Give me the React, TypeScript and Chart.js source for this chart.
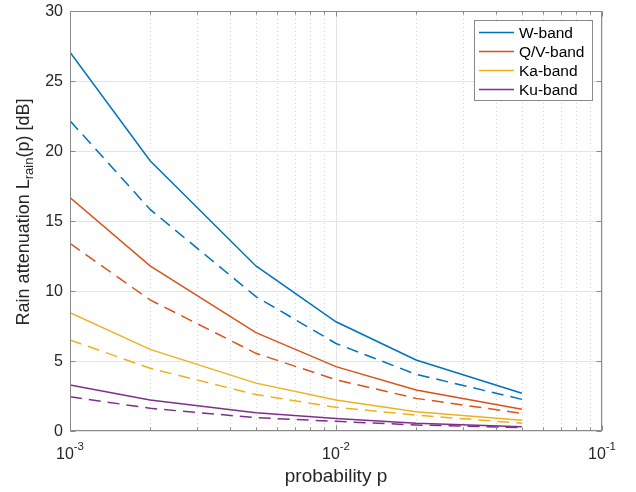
import React, { useEffect, useRef } from "react";
import { Chart, registerables } from "chart.js";

Chart.register(...registerables);

// ---- data ----
const probabilities = [0.001, 0.002, 0.005, 0.01, 0.02, 0.05];

const wBandSolid = [27.05, 19.3, 11.79, 7.8, 5.07, 2.69];
const wBandDashed = [22.16, 15.83, 9.6, 6.25, 4.05, 2.26];
const qvBandSolid = [16.67, 11.79, 7.03, 4.6, 2.93, 1.55];
const qvBandDashed = [13.4, 9.36, 5.55, 3.66, 2.33, 1.26];
const kaBandSolid = [8.45, 5.83, 3.42, 2.21, 1.38, 0.76];
const kaBandDashed = [6.5, 4.48, 2.6, 1.69, 1.14, 0.55];
const kuBandSolid = [3.29, 2.21, 1.31, 0.9, 0.55, 0.31];
const kuBandDashed = [2.45, 1.62, 0.95, 0.69, 0.43, 0.24];

const bandLabels = ["W-band", "Q/V-band", "Ka-band", "Ku-band"];
const bandColors = ["#0072BD", "#D95319", "#EDB120", "#7E2F8E"];
const solidSeries = [wBandSolid, qvBandSolid, kaBandSolid, kuBandSolid];
const dashedSeries = [wBandDashed, qvBandDashed, kaBandDashed, kuBandDashed];

const yTickValues = [0, 5, 10, 15, 20, 25, 30];
const xDecades = [0.001, 0.01, 0.1];
const xDecadeExponents = ["-3", "-2", "-1"];
const xTitle = "probability p";
const yTitleMain = "Rain attenuation L";
const yTitleSub = "rain";
const yTitleEnd = "(p) [dB]";

const FONT = '"Liberation Sans", Arial, Helvetica, sans-serif';
const TEXT = "#262626";

const matlabPlugin = {
  id: "matlabLook",
  beforeDatasetsDraw(chart: any) {
    const { ctx, chartArea: a, scales } = chart;
    const x = scales.x;
    const y = scales.y;
    ctx.save();
    ctx.lineWidth = 1;
    // minor x grid (dotted)
    ctx.strokeStyle = "rgba(0,0,0,0.16)";
    ctx.setLineDash([1, 3]);
    for (let d = 0; d < xDecades.length - 1; d++) {
      for (let k = 2; k <= 9; k++) {
        const px = Math.round(x.getPixelForValue(k * xDecades[d])) + 0.5;
        ctx.beginPath();
        ctx.moveTo(px, a.top);
        ctx.lineTo(px, a.bottom);
        ctx.stroke();
      }
    }
    ctx.setLineDash([]);
    ctx.strokeStyle = "#e4e4e4";
    for (const v of yTickValues) {
      const py = Math.round(y.getPixelForValue(v)) + 0.5;
      ctx.beginPath();
      ctx.moveTo(a.left, py);
      ctx.lineTo(a.right, py);
      ctx.stroke();
    }
    for (const v of xDecades) {
      const px = Math.round(x.getPixelForValue(v)) + 0.5;
      ctx.beginPath();
      ctx.moveTo(px, a.top);
      ctx.lineTo(px, a.bottom);
      ctx.stroke();
    }
    ctx.restore();
  },
  afterDatasetsDraw(chart: any) {
    const { ctx, chartArea: a, scales } = chart;
    const x = scales.x;
    const y = scales.y;
    ctx.save();
    ctx.lineWidth = 1;
    ctx.strokeStyle = "#8a8a8a";
    const L = Math.round(a.left) + 0.5;
    const R = Math.round(a.right) - 0.5;
    const T = Math.round(a.top) + 0.5;
    const B = Math.round(a.bottom) - 0.5;
    ctx.strokeRect(L, T, R - L, B - T);
    // y ticks
    ctx.beginPath();
    for (const v of yTickValues) {
      const py = Math.round(y.getPixelForValue(v)) + 0.5;
      ctx.moveTo(L, py);
      ctx.lineTo(L + 5, py);
      ctx.moveTo(R, py);
      ctx.lineTo(R - 5, py);
    }
    // x ticks
    for (let d = 0; d < xDecades.length; d++) {
      const px = Math.round(x.getPixelForValue(xDecades[d])) + 0.5;
      ctx.moveTo(px, B);
      ctx.lineTo(px, B - 5);
      ctx.moveTo(px, T);
      ctx.lineTo(px, T + 5);
      if (d < xDecades.length - 1) {
        for (let k = 2; k <= 9; k++) {
          const pm = Math.round(x.getPixelForValue(k * xDecades[d])) + 0.5;
          ctx.moveTo(pm, B);
          ctx.lineTo(pm, B - 3);
          ctx.moveTo(pm, T);
          ctx.lineTo(pm, T + 3);
        }
      }
    }
    ctx.stroke();

    // y tick labels
    ctx.fillStyle = TEXT;
    ctx.font = `16px ${FONT}`;
    ctx.textAlign = "right";
    ctx.textBaseline = "middle";
    for (const v of yTickValues) {
      ctx.fillText(String(v), a.left - 7, y.getPixelForValue(v) + 1);
    }
    // x tick labels with superscript
    ctx.textAlign = "left";
    ctx.textBaseline = "alphabetic";
    for (let d = 0; d < xDecades.length; d++) {
      const px = x.getPixelForValue(xDecades[d]);
      ctx.font = `16px ${FONT}`;
      const wBase = ctx.measureText("10").width;
      ctx.font = `11.5px ${FONT}`;
      const wSup = ctx.measureText(xDecadeExponents[d]).width;
      const start = px - (wBase + wSup) / 2;
      ctx.font = `16px ${FONT}`;
      ctx.fillText("10", start, 459);
      ctx.font = `11.5px ${FONT}`;
      ctx.fillText(xDecadeExponents[d], start + wBase, 450);
    }
    // x title
    ctx.font = `19px ${FONT}`;
    ctx.textAlign = "center";
    ctx.fillText(xTitle, (a.left + a.right) / 2, 482);

    // y title (rotated) with subscript
    ctx.save();
    ctx.translate(29, 212);
    ctx.rotate(-Math.PI / 2);
    ctx.font = `18px ${FONT}`;
    const w1 = ctx.measureText(yTitleMain).width;
    const w3 = ctx.measureText(yTitleEnd).width;
    ctx.font = `13px ${FONT}`;
    const w2 = ctx.measureText(yTitleSub).width;
    const total = w1 + w2 + w3;
    let cx = -total / 2;
    ctx.textAlign = "left";
    ctx.font = `18px ${FONT}`;
    ctx.fillText(yTitleMain, cx, 0);
    cx += w1;
    ctx.font = `13px ${FONT}`;
    ctx.fillText(yTitleSub, cx, 4);
    cx += w2;
    ctx.font = `18px ${FONT}`;
    ctx.fillText(yTitleEnd, cx, 0);
    ctx.restore();

    // legend
    const lx = 474.5;
    const ly = 20.5;
    const lw = 118;
    const lh = 80;
    ctx.fillStyle = "#ffffff";
    ctx.fillRect(lx, ly, lw, lh);
    ctx.strokeStyle = "#8a8a8a";
    ctx.strokeRect(lx, ly, lw, lh);
    ctx.font = `15.5px ${FONT}`;
    ctx.textAlign = "left";
    ctx.textBaseline = "middle";
    for (let i = 0; i < bandLabels.length; i++) {
      const ry = 32.5 + i * 19;
      ctx.strokeStyle = bandColors[i];
      ctx.lineWidth = 1.5;
      ctx.beginPath();
      ctx.moveTo(479, ry);
      ctx.lineTo(514, ry);
      ctx.stroke();
      ctx.fillStyle = "#000000";
      ctx.fillText(bandLabels[i], 519, ry + 1);
    }
    ctx.restore();
  },
};

export default function App() {
  const canvasRef = useRef<HTMLCanvasElement | null>(null);

  useEffect(() => {
    const canvas = canvasRef.current;
    if (!canvas) return;
    const datasets: any[] = [];
    for (let i = 0; i < bandLabels.length; i++) {
      datasets.push({
        label: bandLabels[i],
        data: probabilities.map((p, j) => ({ x: p, y: solidSeries[i][j] })),
        borderColor: bandColors[i],
        backgroundColor: bandColors[i],
        borderWidth: 1.5,
        pointRadius: 0,
        tension: 0,
        fill: false,
      });
      datasets.push({
        label: bandLabels[i] + " (dashed)",
        data: probabilities.map((p, j) => ({ x: p, y: dashedSeries[i][j] })),
        borderColor: bandColors[i],
        backgroundColor: bandColors[i],
        borderWidth: 1.5,
        borderDash: [12, 7],
        pointRadius: 0,
        tension: 0,
        fill: false,
      });
    }
    const chart = new Chart(canvas, {
      type: "line",
      data: { datasets },
      options: {
        animation: false,
        responsive: false,
        devicePixelRatio: 1,
        layout: { padding: { left: 0, top: 11, right: 34, bottom: 0 } },
        plugins: {
          legend: { display: false },
          tooltip: { enabled: false },
          title: { display: false },
        },
        scales: {
          x: {
            type: "logarithmic",
            min: 0.001,
            max: 0.1,
            grid: { display: false },
            border: { display: false },
            ticks: { display: false },
            afterFit: (s: any) => {
              s.height = 61;
            },
          },
          y: {
            type: "linear",
            min: 0,
            max: 30,
            grid: { display: false },
            border: { display: false },
            ticks: { display: false, stepSize: 5 },
            afterFit: (s: any) => {
              s.width = 70;
            },
          },
        },
      },
      plugins: [matlabPlugin],
    });
    return () => chart.destroy();
  }, []);

  return (
    <div style={{ position: "absolute", left: 0, top: 0, width: 636, height: 492, background: "#ffffff" }}>
      <canvas ref={canvasRef} width={636} height={492} />
    </div>
  );
}
